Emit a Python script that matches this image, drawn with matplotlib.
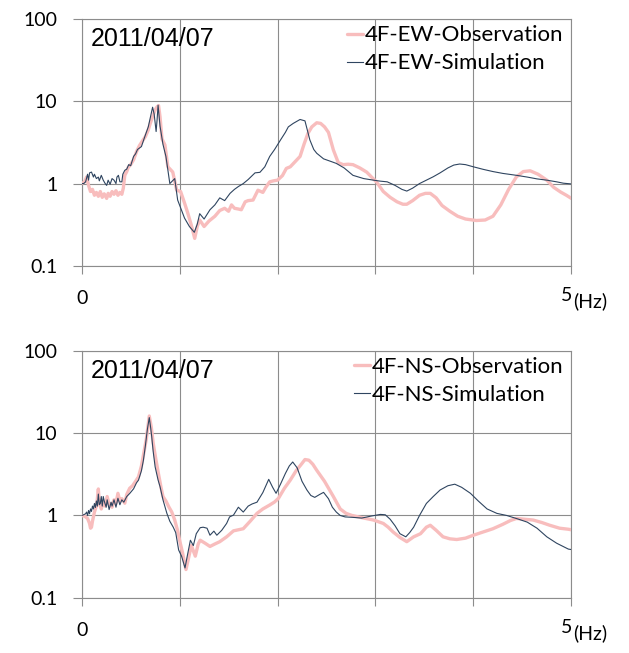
import matplotlib
matplotlib.use("Agg")
import matplotlib.pyplot as plt
from matplotlib.ticker import NullLocator

# ---------------- data: floor response spectra (4F), 2011/04/07 ----------------
date_label = "2011/04/07"

ew_obs_freq = [0.00, 0.03, 0.05, 0.07, 0.09, 0.11, 0.13, 0.15, 0.17, 0.19, 0.21, 0.23,
               0.255, 0.27, 0.29, 0.31, 0.33, 0.35, 0.37, 0.39, 0.41, 0.425, 0.44, 0.46,
               0.476, 0.50, 0.53, 0.56, 0.59, 0.62, 0.65, 0.68, 0.70, 0.73, 0.75, 0.77,
               0.785, 0.80, 0.82, 0.85, 0.88, 0.93, 0.97, 1.01, 1.05, 1.08, 1.12, 1.154,
               1.18, 1.205, 1.25, 1.30, 1.36, 1.41, 1.46, 1.50, 1.53, 1.56, 1.60, 1.63,
               1.67, 1.70, 1.75, 1.80, 1.85, 1.88, 1.92, 1.96, 2.00, 2.05, 2.09, 2.13,
               2.18, 2.23, 2.27, 2.31, 2.35, 2.40, 2.44, 2.48, 2.52, 2.57, 2.62, 2.67,
               2.72, 2.77, 2.84, 2.91, 2.96, 3.01, 3.08, 3.15, 3.22, 3.28, 3.32, 3.38,
               3.45, 3.51, 3.56, 3.62, 3.68, 3.76, 3.84, 3.92, 4.03, 4.12, 4.20, 4.28,
               4.36, 4.44, 4.51, 4.58, 4.66, 4.75, 4.82, 4.89, 4.95, 5.00]
ew_obs_amp = [1.00, 1.05, 1.20, 0.95, 0.80, 0.85, 0.72, 0.78, 0.70, 0.80, 0.68, 0.75,
              0.66, 0.76, 0.70, 0.80, 0.74, 0.82, 0.72, 0.78, 0.74, 0.88, 1.26, 1.40,
              1.58, 1.70, 1.95, 2.45, 2.90, 3.30, 3.72, 4.50, 5.40, 6.80, 7.90, 8.60,
              8.90, 6.50, 3.50, 2.95, 1.60, 1.38, 0.83, 0.80, 0.58, 0.45, 0.31, 0.215,
              0.30, 0.36, 0.30, 0.35, 0.40, 0.47, 0.50, 0.46, 0.55, 0.50, 0.49, 0.48,
              0.60, 0.62, 0.63, 0.83, 0.78, 0.90, 1.05, 1.08, 1.10, 1.25, 1.53, 1.60,
              1.85, 2.14, 3.00, 4.07, 4.90, 5.50, 5.40, 4.90, 4.20, 2.57, 1.80, 1.70,
              1.72, 1.70, 1.55, 1.38, 1.20, 1.05, 0.80, 0.68, 0.60, 0.56, 0.56, 0.62,
              0.72, 0.76, 0.76, 0.67, 0.54, 0.46, 0.40, 0.37, 0.355, 0.36, 0.40, 0.55,
              0.85, 1.21, 1.40, 1.43, 1.30, 1.10, 0.90, 0.79, 0.72, 0.66]

ew_sim_freq = [0.00, 0.02, 0.04, 0.06, 0.07, 0.08, 0.10, 0.12, 0.13, 0.15, 0.17, 0.18,
               0.20, 0.22, 0.24, 0.255, 0.27, 0.29, 0.31, 0.33, 0.35, 0.36, 0.375, 0.39,
               0.41, 0.42, 0.44, 0.46, 0.48, 0.50, 0.53, 0.55, 0.57, 0.61, 0.64, 0.68,
               0.70, 0.724, 0.74, 0.76, 0.77, 0.78, 0.80, 0.83, 0.86, 0.90, 0.95, 0.98,
               1.05, 1.10, 1.15, 1.18, 1.205, 1.25, 1.31, 1.36, 1.41, 1.46, 1.515, 1.56,
               1.60, 1.65, 1.70, 1.77, 1.82, 1.87, 1.92, 1.97, 2.03, 2.08, 2.11, 2.16,
               2.23, 2.28, 2.33, 2.37, 2.40, 2.47, 2.55, 2.60, 2.68, 2.77, 2.88, 2.98,
               3.05, 3.12, 3.20, 3.27, 3.32, 3.38, 3.45, 3.52, 3.59, 3.66, 3.74, 3.80,
               3.86, 3.92, 4.00, 4.10, 4.20, 4.30, 4.44, 4.55, 4.65, 4.75, 4.85, 4.92,
               5.00]
ew_sim_amp = [1.00, 1.00, 1.05, 1.30, 1.10, 1.35, 1.38, 1.20, 1.30, 1.15, 1.20, 1.08,
              1.26, 1.10, 1.00, 0.95, 1.10, 0.98, 1.15, 1.10, 1.00, 1.20, 1.26, 1.05,
              1.05, 1.30, 1.45, 1.50, 1.70, 1.65, 2.14, 2.30, 2.60, 2.82, 3.60, 4.90,
              6.30, 8.50, 7.00, 4.30, 6.00, 9.00, 5.00, 3.00, 2.14, 1.00, 1.15, 0.63,
              0.38, 0.30, 0.255, 0.32, 0.43, 0.37, 0.48, 0.55, 0.67, 0.62, 0.76, 0.85,
              0.92, 1.00, 1.12, 1.35, 1.37, 1.60, 2.14, 2.60, 3.39, 4.20, 4.90, 5.40,
              6.03, 5.80, 3.40, 2.60, 2.34, 2.00, 1.85, 1.76, 1.55, 1.26, 1.15, 1.10,
              1.07, 1.05, 0.95, 0.85, 0.81, 0.88, 1.00, 1.10, 1.21, 1.35, 1.55, 1.68,
              1.73, 1.70, 1.60, 1.49, 1.40, 1.33, 1.26, 1.20, 1.14, 1.10, 1.05, 1.01,
              0.99]

ns_obs_freq = [0.00, 0.03, 0.06, 0.08, 0.09, 0.10, 0.11, 0.13, 0.15, 0.16, 0.17, 0.18,
               0.20, 0.22, 0.24, 0.26, 0.28, 0.30, 0.31, 0.33, 0.35, 0.37, 0.39, 0.41,
               0.44, 0.46, 0.49, 0.52, 0.55, 0.58, 0.61, 0.63, 0.66, 0.69, 0.71, 0.73,
               0.755, 0.78, 0.81, 0.83, 0.86, 0.89, 0.92, 0.95, 0.98, 1.00, 1.03, 1.065,
               1.09, 1.12, 1.16, 1.19, 1.21, 1.26, 1.31, 1.36, 1.41, 1.48, 1.55, 1.65,
               1.72, 1.79, 1.85, 1.92, 1.97, 2.01, 2.07, 2.13, 2.19, 2.25, 2.28, 2.32,
               2.36, 2.40, 2.48, 2.57, 2.64, 2.70, 2.76, 2.81, 2.88, 2.98, 3.08, 3.13,
               3.18, 3.25, 3.32, 3.39, 3.46, 3.52, 3.56, 3.62, 3.69, 3.76, 3.83, 3.92,
               4.00, 4.10, 4.20, 4.30, 4.38, 4.44, 4.52, 4.61, 4.70, 4.78, 4.88, 4.97,
               5.00]
ns_obs_amp = [1.00, 0.98, 0.92, 0.80, 0.70, 0.72, 0.85, 1.10, 1.30, 1.60, 2.10, 1.40,
              1.20, 1.45, 1.30, 1.70, 1.35, 1.40, 1.26, 1.55, 1.40, 1.86, 1.50, 1.60,
              1.41, 1.80, 2.14, 2.30, 2.60, 2.95, 4.00, 5.40, 8.50, 16.2, 12.0, 7.60,
              5.00, 3.40, 2.20, 1.70, 1.50, 1.27, 1.10, 0.88, 0.65, 0.50, 0.35, 0.22,
              0.30, 0.43, 0.32, 0.45, 0.50, 0.46, 0.42, 0.45, 0.48, 0.55, 0.65, 0.69,
              0.85, 1.06, 1.20, 1.34, 1.46, 1.62, 2.14, 2.69, 3.50, 4.30, 4.79, 4.70,
              4.20, 3.55, 2.60, 1.70, 1.20, 1.06, 1.00, 0.97, 0.93, 0.88, 0.80, 0.72,
              0.63, 0.54, 0.48, 0.55, 0.60, 0.72, 0.76, 0.66, 0.55, 0.52, 0.51, 0.53,
              0.575, 0.63, 0.69, 0.78, 0.87, 0.92, 0.90, 0.88, 0.82, 0.76, 0.70, 0.68,
              0.67]

ns_sim_freq = [0.00, 0.02, 0.04, 0.05, 0.06, 0.07, 0.08, 0.09, 0.10, 0.11, 0.12, 0.13,
               0.14, 0.15, 0.16, 0.17, 0.18, 0.19, 0.20, 0.21, 0.22, 0.23, 0.25, 0.26,
               0.28, 0.30, 0.31, 0.33, 0.35, 0.37, 0.39, 0.41, 0.43, 0.46, 0.49, 0.53,
               0.56, 0.58, 0.61, 0.63, 0.65, 0.67, 0.69, 0.705, 0.715, 0.73, 0.75, 0.78,
               0.80, 0.83, 0.87, 0.90, 0.935, 0.96, 0.99, 1.02, 1.055, 1.08, 1.11, 1.14,
               1.17, 1.21, 1.24, 1.28, 1.31, 1.35, 1.38, 1.43, 1.48, 1.51, 1.55, 1.60,
               1.65, 1.70, 1.74, 1.79, 1.85, 1.91, 1.95, 1.985, 2.03, 2.08, 2.12, 2.155,
               2.20, 2.25, 2.30, 2.34, 2.38, 2.43, 2.47, 2.52, 2.56, 2.60, 2.64, 2.69,
               2.76, 2.86, 2.95, 3.05, 3.10, 3.15, 3.20, 3.25, 3.31, 3.35, 3.39, 3.45,
               3.52, 3.59, 3.66, 3.74, 3.81, 3.88, 3.97, 4.05, 4.14, 4.24, 4.34, 4.45,
               4.55, 4.65, 4.75, 4.85, 4.97, 5.00]
ns_sim_amp = [1.00, 1.02, 1.05, 1.10, 1.00, 1.15, 1.05, 1.20, 1.12, 1.30, 1.20, 1.40,
              1.25, 1.50, 1.30, 1.82, 1.35, 1.40, 1.70, 1.30, 1.70, 1.50, 1.26, 1.55,
              1.18, 1.45, 1.30, 1.55, 1.26, 1.62, 1.35, 1.55, 1.45, 1.70, 1.85, 2.11,
              2.50, 2.69, 3.50, 4.68, 7.00, 11.0, 15.5, 11.5, 9.10, 6.00, 3.90, 2.70,
              2.24, 1.55, 1.06, 0.85, 0.72, 0.62, 0.38, 0.32, 0.23, 0.33, 0.50, 0.43,
              0.60, 0.71, 0.72, 0.70, 0.575, 0.645, 0.575, 0.66, 0.80, 0.96, 1.01, 1.26,
              1.10, 1.30, 1.38, 1.45, 1.90, 2.75, 2.20, 1.86, 2.40, 3.24, 4.00, 4.47,
              3.80, 2.60, 2.04, 1.75, 1.66, 1.80, 1.91, 1.60, 1.26, 1.10, 1.00, 0.96,
              0.95, 0.93, 0.98, 1.03, 1.02, 0.90, 0.75, 0.60, 0.55, 0.62, 0.72, 1.00,
              1.40, 1.70, 2.04, 2.30, 2.40, 2.20, 1.86, 1.50, 1.20, 1.06, 1.00, 0.91,
              0.83, 0.70, 0.55, 0.46, 0.39, 0.385]

y_ticks = [0.1, 1, 10, 100]
y_tick_labels = ["0.1", "1", "10", "100"]
x_ticks = [0, 1, 2, 3, 4, 5]

panels = [
    (ew_obs_freq, ew_obs_amp, ew_sim_freq, ew_sim_amp,
     "4F-EW-Observation", "4F-EW-Simulation"),
    (ns_obs_freq, ns_obs_amp, ns_sim_freq, ns_sim_amp,
     "4F-NS-Observation", "4F-NS-Simulation"),
]

# ---------------- figure layout ----------------
W, H = 629, 653
fig = plt.figure(figsize=(W / 100, H / 100), dpi=100)
fig.patch.set_facecolor("white")


def rect(left, top, right, bottom):
    return [left / W, 1 - bottom / H, (right - left) / W, (bottom - top) / H]


axes = [fig.add_axes(rect(81.7, 19.3, 571.3, 265.7)),
        fig.add_axes(rect(81.7, 351.0, 571.3, 597.7))]

GRID = "#8C8C8C"
OBS_COLOR = "#F8BDBD"
SIM_COLOR = "#2F4560"
TICK_FONT = "Lato"

for ax, (of, oa, sf, sa, obs_lbl, sim_lbl) in zip(axes, panels):
    ax.set_yscale("log")
    ax.plot(of, oa, color=OBS_COLOR, lw=2.4, solid_joinstyle="round",
            solid_capstyle="round", label=obs_lbl, zorder=3)
    ax.plot(sf, sa, color=SIM_COLOR, lw=0.8, label=sim_lbl, zorder=4)
    ax.set_xlim(0, 5)
    ax.set_ylim(0.1, 100)

    ax.set_yticks(y_ticks)
    ax.set_yticklabels(y_tick_labels, fontfamily=TICK_FONT, fontsize=14)
    ax.yaxis.set_minor_locator(NullLocator())
    ax.set_xticks(x_ticks)
    ax.set_xticklabels(["0", "", "", "", "", ""], fontfamily=TICK_FONT, fontsize=14)

    ax.grid(True, color=GRID, lw=0.8)
    ax.set_axisbelow(True)
    for s in ax.spines.values():
        s.set_color(GRID)
        s.set_linewidth(0.8)
    ax.tick_params(axis="y", direction="out", length=6.5, width=0.8,
                   color=GRID, pad=11, labelcolor="black")
    ax.tick_params(axis="x", direction="out", length=5.5, width=0.8,
                   color=GRID, pad=12, labelcolor="black")

    # end-of-axis frequency label: "5" with a lowered "(Hz)"
    ax.annotate("5", xy=(5, 0), xycoords=("data", "axes fraction"),
                xytext=(1, -30), textcoords="offset pixels",
                ha="right", va="center", fontsize=14, fontfamily=TICK_FONT)
    ax.annotate("(Hz)", xy=(5, 0), xycoords=("data", "axes fraction"),
                xytext=(2, -36), textcoords="offset pixels",
                ha="left", va="center", fontsize=14, fontfamily=TICK_FONT)

    ax.text(9 / 489.6, 1 - 8 / 246.5, date_label, transform=ax.transAxes,
            ha="left", va="top", fontsize=18, fontfamily="Liberation Sans")

    ax.legend(loc="upper right", bbox_to_anchor=(1.015, 1.038), frameon=False,
              prop={"family": TICK_FONT, "size": 16}, handlelength=0.75,
              handletextpad=0.05, labelspacing=0.36, borderaxespad=0.3)

fig.savefig("out.png", dpi=100, facecolor="white")
